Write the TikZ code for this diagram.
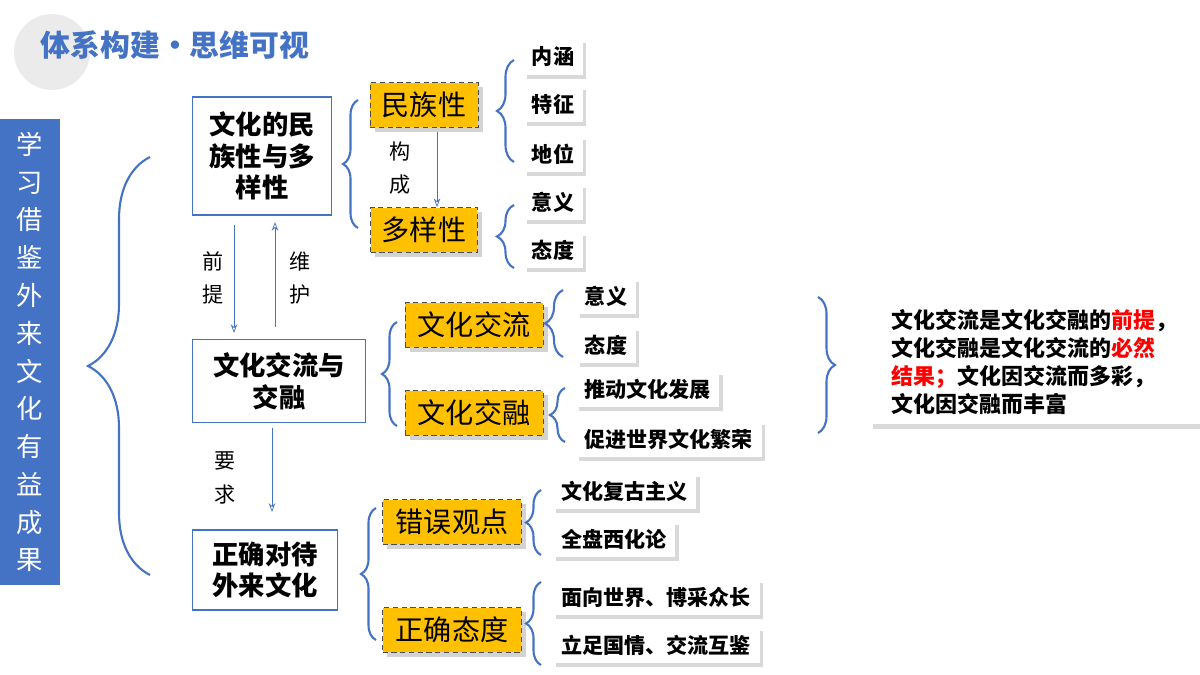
\documentclass[tikz,border=0pt]{standalone}
\usepackage{fontspec}
\setmainfont{Noto Sans CJK SC}
\usetikzlibrary{positioning, arrows.meta, shadows, decorations.pathreplacing}
\definecolor{mapblue}{HTML}{4472C4}
\definecolor{maporange}{HTML}{FFC000}
\definecolor{hotred}{HTML}{FF0000}

\begin{document}
\begin{tikzpicture}[x=0.02cm, y=-0.02cm]
\tikzstyle{mainbox}=[draw=mapblue, thick, fill=white, align=center, font=\fontsize{15}{18}\selectfont\bfseries, inner sep=2pt]
\tikzstyle{keybox}=[draw=black!70, densely dashed, fill=maporange, drop shadow={opacity=0.35}, font=\fontsize{16}{18}\selectfont, minimum height=0.9cm]
\tikzstyle{leaf}=[fill=white, drop shadow={opacity=0.3, shadow xshift=2pt, shadow yshift=-2pt}, font=\fontsize{12}{14}\selectfont\bfseries, minimum height=0.72cm, inner xsep=5pt]
\tikzstyle{bracket}=[draw=mapblue, line width=1.2pt, decorate]
\tikzstyle{link}=[draw=mapblue, thin, -{Stealth[length=5pt, open]}]
\tikzstyle{word}=[align=center, font=\fontsize{12}{19}\selectfont]
\useasboundingbox (0,0) rectangle (1200,675);

% title
\fill[black!8] (52,52) circle (38);
\node[font=\fontsize{17}{20}\selectfont\bfseries, text=mapblue] (title) at (175,45) {体系构建·思维可视};

% side panel
\node[fill=mapblue, minimum width=1.2cm, minimum height=9.34cm, text=white, align=center,
      font=\fontsize{15}{21.5}\selectfont] (side) at (30,352)
      {学\\习\\借\\鉴\\外\\来\\文\\化\\有\\益\\成\\果};
\draw[bracket, decoration={brace, amplitude=1.24cm}] (150,575) -- (150,157);

% main boxes
\node[mainbox, minimum width=2.78cm, minimum height=2.36cm] (nation) at (262,156) {文化的民\\族性与多\\样性};
\node[mainbox, minimum width=3.46cm, minimum height=1.66cm] (exchange) at (279,381) {文化交流与\\交融};
\node[mainbox, minimum width=2.9cm, minimum height=1.6cm] (treat) at (265,570) {正确对待\\外来文化};

\coordinate (p1) at (234,225); \coordinate (p2) at (234,333);
\coordinate (m1) at (275,327); \coordinate (m2) at (275,222);
\coordinate (r1) at (272,428); \coordinate (r2) at (272,512);
\draw[link] (p1) -- (p2);
\draw[link] (m1) -- (m2);
\draw[link] (r1) -- (r2);
\node[word] (qianti) at (213,278) {前\\提};
\node[word] (weihu) at (300,278) {维\\护};
\node[word] (yaoqiu) at (225,478) {要\\求};

% first group
\node[keybox, minimum width=2.16cm] (minzu) at (424,105) {民族性};
\node[keybox, minimum width=2.14cm] (duoyang) at (424,230) {多样性};
\draw[link] (minzu.south -| 437,0) ++(0,4) coordinate (g1) -- (duoyang.north -| 437,0) coordinate (g2);
\node[word] (goucheng) at (400,168) {构\\成};
\draw[bracket, decoration={brace, amplitude=0.3cm}] (358,228) -- (358,100);
\node[leaf] (neihan) at (553,57) {内涵};
\node[leaf] (tezheng) at (553,104) {特征};
\node[leaf] (diwei) at (553,154) {地位};
\draw[bracket, decoration={brace, amplitude=0.34cm}] (514,162) -- (514,60);
\node[leaf] (yiyi1) at (553,202) {意义};
\node[leaf] (taidu1) at (553,250) {态度};
\draw[bracket, decoration={brace, amplitude=0.34cm}] (514,268) -- (514,205);

% second group
\node[keybox, minimum width=2.76cm] (jiaoliu) at (474,325) {文化交流};
\node[keybox, minimum width=2.76cm] (jiaorong) at (474,413) {文化交融};
\draw[bracket, decoration={brace, amplitude=0.3cm}] (397,426) -- (397,322);
\node[leaf] (yiyi2) at (606,296) {意义};
\node[leaf] (taidu2) at (606,345) {态度};
\draw[bracket, decoration={brace, amplitude=0.36cm}] (563,357) -- (563,290);
\node[leaf, anchor=west] (tuidong) at (575,389) {推动文化发展};
\node[leaf, anchor=west] (cujin) at (575,439) {促进世界文化繁荣};
\draw[bracket, decoration={brace, amplitude=0.3cm}] (565,442) -- (565,388);
\draw[bracket, decoration={brace, amplitude=0.34cm}] (818,297) -- (818,433);
\node[fill=white, drop shadow={opacity=0.3}, anchor=west, align=left, minimum width=6.64cm, minimum height=2.5cm,
      font=\fontsize{12.5}{16}\selectfont\bfseries] (summary) at (868,362)
      {文化交流是文化交融的\textcolor{hotred}{前提}，\\
       文化交融是文化交流的\textcolor{hotred}{必然}\\
       \textcolor{hotred}{结果；}文化因交流而多彩，\\
       文化因交融而丰富};

% third group
\node[keybox, minimum width=2.78cm] (cuowu) at (452,522) {错误观点};
\node[keybox, minimum width=2.78cm] (zhengque) at (452,630) {正确态度};
\draw[bracket, decoration={brace, amplitude=0.3cm}] (376,640) -- (376,508);
\node[leaf, anchor=west] (fugu) at (552,491) {文化复古主义};
\node[leaf, anchor=west] (quanpan) at (552,539) {全盘西化论};
\draw[bracket, decoration={brace, amplitude=0.3cm}] (541,555) -- (541,490);
\node[leaf, anchor=west] (mianxiang) at (552,597) {面向世界、博采众长};
\node[leaf, anchor=west] (lizu) at (552,645) {立足国情、交流互鉴};
\draw[bracket, decoration={brace, amplitude=0.3cm}] (541,665) -- (541,582);
\end{tikzpicture}
\end{document}
